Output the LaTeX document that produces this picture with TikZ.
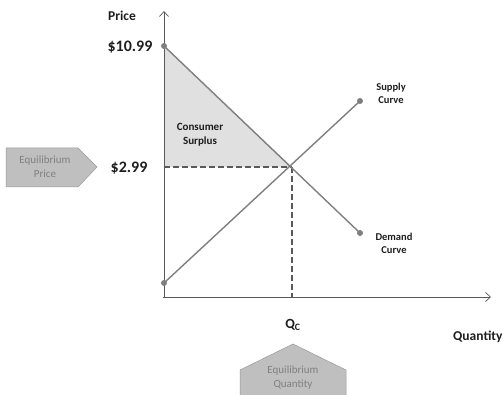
\documentclass[tikz,border=0pt]{standalone}
\usepackage{fontspec}
\setmainfont{Carlito}
\usetikzlibrary{arrows.meta}
\definecolor{linegray}{HTML}{7F7F7F}
\definecolor{axisgray}{HTML}{595959}
\definecolor{fillgray}{HTML}{E0E0E0}
\definecolor{boxgray}{HTML}{BFBFBF}
\definecolor{boxtext}{HTML}{808080}
\definecolor{txt}{HTML}{1E1E1E}
\tikzset{
  axis/.style={draw=axisgray, line width=0.9pt, -{Straight Barb[length=5pt,width=9pt,line width=0.7pt]}},
  curve/.style={draw=linegray, line width=1.4pt},
  dot/.style={circle, fill=linegray, inner sep=0pt, minimum size=6pt},
  guide/.style={draw=axisgray, line width=1.3pt, dash pattern=on 6pt off 3pt},
  lbl/.style={text=txt, font=\bfseries, inner sep=0pt, align=center},
  tag/.style={fill=boxgray, draw=linegray!80, line width=0.5pt},
  tagtext/.style={text=boxtext, inner sep=0pt, align=center, font=\fontsize{11}{14}\selectfont}
}
\begin{document}
\begin{tikzpicture}[x=1pt,y=-1pt]
\useasboundingbox (0,0) rectangle (503,395);
% coordinates
\coordinate (ytop) at (164,11);
\coordinate (xend) at (491,297);
\coordinate (E) at (292,167);
\coordinate (Ey) at (164,167);
\coordinate (Ex) at (292,297);
% consumer surplus
\fill[fillgray] (164,46) -- (Ey) -- (E) -- cycle;
% axes
\draw[axis] (164,298) -- (ytop);
\draw[axis] (163,297) -- (xend);
% guides
\draw[guide] (Ey) -- (E);
\draw[guide] (E) -- (Ex);
% curves
\node[dot] (d1) at (164,46) {};
\node[dot] (d2) at (360,233) {};
\node[dot] (s1) at (164,283) {};
\node[dot] (s2) at (360,101) {};
\draw[curve] (d1.center) -- (d2.center);
\draw[curve] (s1.center) -- (s2.center);
% labels
\node[lbl, font=\bfseries\fontsize{13.5}{15}\selectfont] (price) at (122,16) {Price};
\node[lbl, font=\bfseries\fontsize{16}{17}\selectfont] (p1) at (130,47) {\$10.99};
\node[lbl, font=\bfseries\fontsize{16}{17}\selectfont] (p2) at (129,168) {\$2.99};
\node[lbl, font=\bfseries\fontsize{11}{14}\selectfont] (cs) at (200,135) {Consumer\\Surplus};
\node[lbl, font=\bfseries\fontsize{10.5}{13}\selectfont] (sc) at (391,93) {Supply\\Curve};
\node[lbl, font=\bfseries\fontsize{10.5}{13}\selectfont] (dc) at (394,243) {Demand\\Curve};
\node[lbl, font=\bfseries\fontsize{14}{15}\selectfont] (qc) at (293,325) {Q\textsubscript{C}};
\node[lbl, font=\bfseries\fontsize{13.5}{15}\selectfont, anchor=west] (qty) at (453,337) {Quantity};
% tags
\draw[tag] (6,148) -- (78,148) -- (97,167) -- (78,187) -- (6,187) -- cycle;
\node[tagtext] (ep) at (45,167) {Equilibrium\\Price};
\draw[tag] (240,396) -- (240,370) -- (293,344) -- (346,370) -- (346,396);
\node[tagtext] (eq) at (293,378) {Equilibrium\\Quantity};
\end{tikzpicture}
\end{document}
